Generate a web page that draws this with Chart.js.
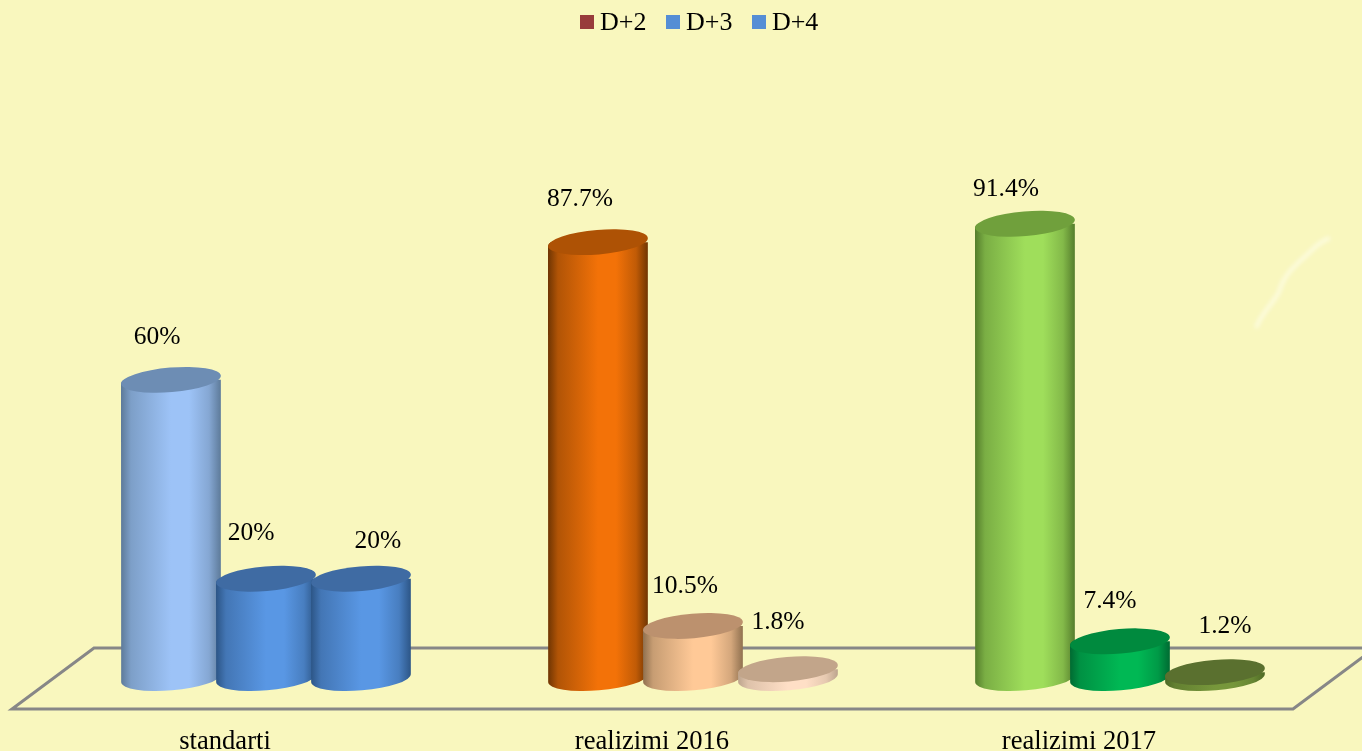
<!DOCTYPE html>
<html lang="sq">
<head>
  <meta charset="UTF-8" />
  <title>D+2, D+3, D+4</title>
  <script src="https://cdn.jsdelivr.net/npm/chart.js"></script>
  <style>
    html, body {
      margin: 0;
      width: 1362px;
      height: 751px;
      overflow: hidden;
      background: #f9f7be;
    }
    #wrap {
      position: relative;
      width: 1362px;
      height: 751px;
    }
    #legend {
      position: absolute;
      left: 580px;
      top: 6px;
      display: flex;
      gap: 19.5px;
      font: 26px "Liberation Serif", serif;
      line-height: 32px;
      color: #000;
    }
    #legend div {
      display: flex;
      align-items: center;
      gap: 6px;
    }
    #legend i {
      display: block;
      width: 14px;
      height: 14px;
    }
  </style>
</head>
<body>
  <div id="wrap">
    <canvas id="chart" width="1362" height="751"></canvas>
    <div id="legend"></div>
  </div>

  <script>
    const categories = ["standarti", "realizimi 2016", "realizimi 2017"];
    const seriesNames = ["D+2", "D+3", "D+4"];
    const d2Values = [60, 87.7, 91.4];
    const d3Values = [20, 10.5, 7.4];
    const d4Values = [20, 1.8, 1.2];
    const legendColors = ["#983c3b", "#558ed5", "#558ed5"];

    // one colour per cylinder: [edge of the body, bright middle, top cap]
    const d2Colors = [
      ["#5d7a99", "#9dc3f7", "#6d8db4"],
      ["#6f3503", "#f37208", "#ae5205"],
      ["#557d2c", "#9fde5b", "#70a03c"]
    ];
    const d3Colors = [
      ["#2c5586", "#5997e4", "#3f6ba3"],
      ["#8f704f", "#ffc997", "#bc916e"],
      ["#006a32", "#00b854", "#008a3e"]
    ];
    const d4Colors = [
      ["#2c5586", "#5997e4", "#3f6ba3"],
      ["#bca48d", "#ffdfc6", "#c2a58a"],
      ["#4e6926", "#77973b", "#5a702f"]
    ];

    // hand placed value labels, px from the middle of the cap
    const labelNudges = [
      [[-14, -43], [-18, -43], [-19, -34]],
      [[-15, -45], [-8, -40], [-10, -40]],
      [[17, -37], [-10, -47], [10, -46]]
    ];

    const capTilt = -0.085;
    const capHeight = 12.3;
    const categoryPct = 0.6674;
    const barPct = 1.053;

    function mix(a, b, t) {
      const pa = parseInt(a.slice(1), 16), pb = parseInt(b.slice(1), 16);
      const ch = s => Math.round((pa >> s & 255) * (1 - t) + (pb >> s & 255) * t);
      return `rgb(${ch(16)},${ch(8)},${ch(0)})`;
    }

    function bodyFill(colors) {
      return function (ctx) {
        const c = colors[ctx.dataIndex];
        const xs = ctx.chart.scales.x;
        if (!xs || ctx.dataIndex === undefined) return "#888";
        const step = xs.width / categories.length * categoryPct / 3;
        const mid = xs.getPixelForValue(ctx.dataIndex) + (ctx.datasetIndex - 1) * step;
        const half = step * barPct / 2;
        if (!isFinite(mid) || !isFinite(half)) return c[1];
        const g = ctx.chart.ctx.createLinearGradient(mid - half, 0, mid + half, 0);
        g.addColorStop(0, c[0]);
        g.addColorStop(0.1, mix(c[0], c[1], 0.5));
        g.addColorStop(0.5, c[1]);
        g.addColorStop(0.68, c[1]);
        g.addColorStop(0.88, mix(c[0], c[1], 0.62));
        g.addColorStop(1, c[0]);
        return g;
      };
    }

    // cylinders: Chart.js paints the first dataset on top, here the later
    // one has to overlap, so the normal draw is cancelled and redone in order
    const cylinders = {
      id: "cylinders",
      beforeDatasetDraw() {
        return false;
      },
      afterDatasetsDraw(chart) {
        const ctx = chart.ctx;
        const zero = chart.scales.y.getPixelForValue(0);
        [d2Colors, d3Colors, d4Colors].forEach((colors, d) => {
          const meta = chart.getDatasetMeta(d);
          ctx.save();
          ctx.beginPath();
          meta.data.forEach(bar => {
            const a = bar.width / 2;
            ctx.moveTo(bar.x - a, bar.y);
            ctx.ellipse(bar.x, bar.y, a, capHeight, capTilt, Math.PI, 2 * Math.PI);
            ctx.ellipse(bar.x, zero, a, capHeight, capTilt, 0, Math.PI);
            ctx.closePath();
          });
          ctx.clip();
          meta.controller.draw();
          ctx.restore();
          meta.data.forEach((bar, i) => {
            ctx.beginPath();
            ctx.ellipse(bar.x, bar.y, bar.width / 2, capHeight, capTilt, 0, 2 * Math.PI);
            ctx.fillStyle = colors[i][2];
            ctx.fill();
          });
        });
      }
    };

    // floor frame behind the bars and the faint white streak top right
    const backdrop = {
      id: "backdrop",
      beforeDatasetsDraw(chart) {
        const ctx = chart.ctx;
        ctx.save();
        ctx.beginPath();
        ctx.moveTo(94, 648);
        ctx.lineTo(1375, 648);
        ctx.lineTo(1293, 709);
        ctx.lineTo(12, 709);
        ctx.closePath();
        ctx.strokeStyle = "#878787";
        ctx.lineWidth = 3;
        ctx.stroke();

        ctx.filter = "blur(2px)";
        ctx.beginPath();
        ctx.moveTo(1256, 328);
        ctx.bezierCurveTo(1262, 312, 1272, 305, 1279, 292);
        ctx.bezierCurveTo(1284, 272, 1300, 262, 1312, 250);
        ctx.bezierCurveTo(1318, 244, 1324, 240, 1330, 238);
        ctx.strokeStyle = "rgba(255,255,245,0.6)";
        ctx.lineWidth = 4;
        ctx.stroke();
        ctx.restore();
      }
    };

    const valueLabels = {
      id: "valueLabels",
      afterDatasetsDraw(chart) {
        const ctx = chart.ctx;
        ctx.save();
        ctx.font = '25.5px "Liberation Serif", serif';
        ctx.fillStyle = "#000";
        ctx.textAlign = "center";
        ctx.textBaseline = "middle";
        chart.data.datasets.forEach((ds, d) => {
          chart.getDatasetMeta(d).data.forEach((bar, i) => {
            const n = labelNudges[d][i];
            ctx.fillText(ds.data[i] + "%", bar.x + n[0], bar.y + n[1]);
          });
        });
        ctx.restore();
      }
    };

    const allValues = [d2Values, d3Values, d4Values];
    const allColors = [d2Colors, d3Colors, d4Colors];

    new Chart(document.getElementById("chart"), {
      type: "bar",
      data: {
        labels: categories,
        datasets: seriesNames.map((name, i) => ({
          label: name,
          data: allValues[i],
          base: -4,
          backgroundColor: bodyFill(allColors[i]),
          categoryPercentage: categoryPct,
          barPercentage: barPct
        }))
      },
      options: {
        responsive: false,
        animation: false,
        layout: { padding: { top: 181, left: 52.5, right: 28.5, bottom: 0 } },
        plugins: {
          legend: { display: false },
          tooltip: { enabled: false }
        },
        scales: {
          x: {
            grid: { display: false },
            border: { display: false },
            afterFit: s => { s.height = 53; },
            ticks: {
              color: "#000",
              font: { family: '"Liberation Serif", serif', size: 26.6 },
              labelOffset: -41,
              padding: 20,
              maxRotation: 0
            }
          },
          y: { display: false, min: -4, max: 100 }
        }
      },
      plugins: [backdrop, cylinders, valueLabels]
    });

    document.getElementById("legend").innerHTML = seriesNames
      .map((name, i) => `<div><i style="background:${legendColors[i]}"></i>${name}</div>`)
      .join("");
  </script>
</body>
</html>
